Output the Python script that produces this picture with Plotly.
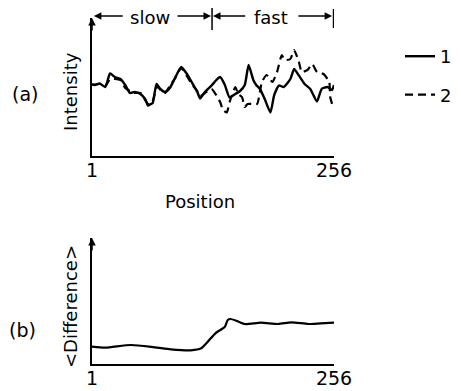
import plotly.graph_objects as go

# ---- data ----
pos_1 = [1, 4, 9, 15, 20, 25, 31, 36, 41, 46, 52, 57, 60, 63, 65, 69, 73, 78, 83, 88,
         95, 101, 106, 112, 115, 120, 127, 132, 136, 141, 146, 152, 157, 162, 166, 171,
         174, 178, 183, 189, 193, 198, 203, 210, 214, 219, 225, 231, 238, 243, 249, 254, 256]
int_1 = [72, 71, 72.5, 69, 82.5, 79, 77, 71, 63, 64, 62, 57, 50.5, 52, 53, 72, 67, 64, 68, 77,
         89, 82, 74, 64, 57.5, 64, 70.5, 76, 79, 71, 58.5, 62, 65, 71, 91, 76,
         71, 67, 57, 43.5, 61, 70.5, 69, 77, 87, 80.5, 72, 67, 54.5, 67, 69, 66, 71]

pos_2 = [1, 9, 15, 20, 25, 31, 36, 41, 46, 52, 57, 60, 63, 65, 70, 73, 78, 83, 88, 95,
         101, 106, 112, 115, 120, 127, 136, 139, 143, 146, 152, 155, 159, 162, 165, 170,
         175, 180, 185, 191, 196, 201, 204, 210, 214, 219, 222, 228, 233, 238, 245, 251, 252, 254]
int_2 = [71, 72, 70, 77, 77, 76, 68, 65, 63, 63, 56, 52, 52, 55, 70, 66, 63, 70, 77, 88,
         80, 72, 65, 60, 63, 67, 54, 46, 43.5, 54, 69, 62, 59, 49, 52, 52,
         52, 74, 81, 74, 84, 101, 96, 97, 106, 94, 84, 86, 92, 84, 82, 74, 59, 52]

pos_d = [1, 15, 42, 67, 84, 105, 116, 123, 131, 141, 144, 147, 153, 162, 179, 197, 211, 229, 242, 256]
diff = [17.3, 16.3, 19, 16.7, 14.7, 13.7, 15.7, 22.3, 30.7, 37.3, 44, 45, 43.3, 40, 41.3, 40, 41.7, 40, 40.7, 41.3]

x_ticks = [1, 256]
x_ticktext = ["1", "256"]
series_names = ["1", "2"]

FONT = "DejaVu Sans"
OFF = 8  # page body margin
W, H = 461 - OFF, 391 - OFF

def px(x):
    return (x - OFF) / W

def py(y):
    return (H - (y - OFF)) / H

fig = go.Figure()
fig.add_trace(go.Scatter(x=pos_1, y=int_1, mode="lines", name=series_names[0],
                         line=dict(color="black", width=2.4, shape="spline", smoothing=0.5),
                         xaxis="x", yaxis="y", legendgroup="a"))
fig.add_trace(go.Scatter(x=pos_2, y=int_2, mode="lines", name=series_names[1],
                         line=dict(color="black", width=2.2, dash="8px,5px", shape="spline", smoothing=0.5),
                         xaxis="x", yaxis="y", legendgroup="b"))
fig.add_trace(go.Scatter(x=pos_d, y=diff, mode="lines", showlegend=False,
                         line=dict(color="black", width=2.2, shape="spline", smoothing=0.6),
                         xaxis="x2", yaxis="y2"))

xdom = [px(92), px(334)]
common_x = dict(range=[1, 256], showline=True, linecolor="black", linewidth=2,
                tickvals=x_ticks, ticktext=x_ticktext, ticks="inside", ticklen=6,
                tickwidth=2, tickcolor="black", showgrid=False, zeroline=False,
                ticklabelstandoff=-4,
                tickfont=dict(size=19, color="black", family=FONT), domain=xdom)
common_y = dict(showline=True, linecolor="black", linewidth=2, showticklabels=False,
                ticks="", showgrid=False, zeroline=False)

fig.update_layout(
    width=W, height=H, margin=dict(l=0, r=0, t=0, b=0, autoexpand=False),
    paper_bgcolor="white", plot_bgcolor="white",
    font=dict(family=FONT, color="black", size=18),
    xaxis=dict(anchor="y", **common_x),
    yaxis=dict(anchor="x", domain=[py(156), py(18)], range=[0, 138], **common_y),
    xaxis2=dict(anchor="y2", **common_x),
    yaxis2=dict(anchor="x2", domain=[py(364), py(238)], range=[0, 126], **common_y),
    legend=dict(x=px(400), y=py(38), xanchor="left", yanchor="top",
                font=dict(size=18, family=FONT, color="black"),
                tracegroupgap=12, bgcolor="rgba(0,0,0,0)"),
)

ann = []
# y-axis arrowheads
ann.append(dict(x=1, y=138, xref="x", yref="y", ax=0, ay=14, axref="pixel", ayref="pixel",
                text="", showarrow=True, arrowhead=2, arrowsize=1, arrowwidth=1.5, arrowcolor="black"))
ann.append(dict(x=1, y=126, xref="x2", yref="y2", ax=0, ay=14, axref="pixel", ayref="pixel",
                text="", showarrow=True, arrowhead=2, arrowsize=1, arrowwidth=1.5, arrowcolor="black"))
# header arrows
hy = py(16)
for head, tail in [(3, 35), (126.4, 89.5), (128.5, 164), (254, 217)]:
    ann.append(dict(x=head, y=hy, xref="x", yref="paper", ax=tail, ay=0, axref="x", ayref="pixel",
                    text="", showarrow=True, arrowhead=2, arrowsize=1, arrowwidth=1.5,
                    arrowcolor="black", standoff=0, startstandoff=0))
ty = py(17)
ann.append(dict(x=61.6, y=ty, xref="x", yref="paper", text="slow", showarrow=False,
                font=dict(size=18), xanchor="center", yanchor="middle", borderpad=0))
ann.append(dict(x=190, y=ty, xref="x", yref="paper", text="fast", showarrow=False,
                font=dict(size=18), xanchor="center", yanchor="middle", borderpad=0))
# labels
def lab(x, y, text, angle=0, size=18):
    return dict(x=px(x), y=py(y), xref="paper", yref="paper", text=text, showarrow=False,
                textangle=angle, font=dict(size=size), xanchor="center", yanchor="middle")

ann.append(lab(25, 94, "(a)", size=19))
ann.append(lab(22, 330, "(b)", size=19))
ann.append(lab(70, 92, "Intensity", angle=-90))
ann.append(lab(70, 307, "&lt;Difference&gt;", angle=-90))
ann.append(lab(200, 201, "Position"))
fig.update_layout(annotations=ann)

fig.update_layout(shapes=[
    dict(type="line", xref="x", yref="paper", x0=127.5, x1=127.5, y0=py(6), y1=py(30),
         line=dict(color="black", width=1.5)),
    dict(type="line", xref="x", yref="paper", x0=255.5, x1=255.5, y0=py(9), y1=py(28),
         line=dict(color="black", width=1.5)),
])

fig.write_html("out.html")
